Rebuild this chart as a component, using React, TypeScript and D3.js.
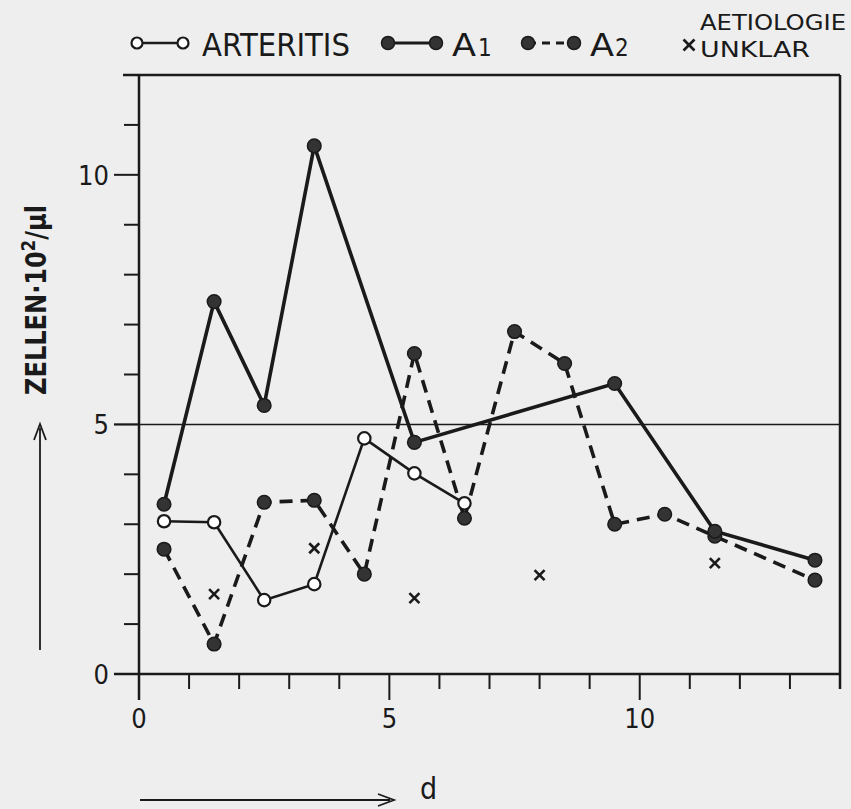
import React from "react";
import * as d3 from "d3";

const arteritisX = [0.5, 1.5, 2.5, 3.5, 4.5, 5.5, 6.5];
const arteritisY = [3.06, 3.04, 1.48, 1.8, 4.72, 4.02, 3.42];

const a1X = [0.5, 1.5, 2.5, 3.5, 5.5, 9.5, 11.5, 13.5];
const a1Y = [3.4, 7.46, 5.38, 10.58, 4.64, 5.82, 2.86, 2.28];

const a2X = [0.5, 1.5, 2.5, 3.5, 4.5, 5.5, 6.5, 7.5, 8.5, 9.5, 10.5, 11.5, 13.5];
const a2Y = [2.5, 0.6, 3.44, 3.48, 2.0, 6.42, 3.12, 6.86, 6.22, 3.0, 3.2, 2.76, 1.88];

const unklarX = [1.5, 3.5, 5.5, 8.0, 11.5];
const unklarY = [1.6, 2.52, 1.52, 1.98, 2.22];

const xMajor = [0, 5, 10];
const xMinor = [1, 2, 3, 4, 6, 7, 8, 9, 11, 12, 13, 14];
const yMajor = [0, 5, 10];
const yMinor = [1, 2, 3, 4, 6, 7, 8, 9, 11];

const W = 851;
const H = 809;
const INK = "#1a1a1a";
const FONT = "'Liberation Sans Narrow', 'DejaVu Sans Condensed', 'Liberation Sans', sans-serif";

export default function App() {
  const x = d3.scaleLinear().domain([0, 14]).range([139, 840]);
  const y = d3.scaleLinear().domain([0, 12]).range([674, 75]);

  const pts = (xs: number[], ys: number[]) => xs.map((v, i) => [v, ys[i]] as [number, number]);
  const line = d3
    .line<[number, number]>()
    .x((d) => x(d[0]))
    .y((d) => y(d[1]));

  const art = pts(arteritisX, arteritisY);
  const a1 = pts(a1X, a1Y);
  const a2 = pts(a2X, a2Y);
  const unk = pts(unklarX, unklarY);

  const cross = (cx: number, cy: number, k: string, s = 5) => (
    <g key={k} stroke={INK} strokeWidth={2.6}>
      <line x1={cx - s} y1={cy - s} x2={cx + s} y2={cy + s} />
      <line x1={cx - s} y1={cy + s} x2={cx + s} y2={cy - s} />
    </g>
  );

  return (
    <svg width={W} height={H} style={{ display: "block", position: "absolute", left: 0, top: 0 }}>
      <rect x={0} y={0} width={W} height={H} fill="#eeeeee" />

      {/* Legend */}
      <g fontFamily={FONT} fill={INK}>
        <line x1={137} y1={43} x2={183} y2={43} stroke={INK} strokeWidth={2.5} />
        <circle cx={137} cy={43} r={5.5} fill="#ffffff" stroke={INK} strokeWidth={2.2} />
        <circle cx={183} cy={43} r={5.5} fill="#ffffff" stroke={INK} strokeWidth={2.2} />
        <text x={202} y={56} fontSize={32} textLength={148} lengthAdjust="spacingAndGlyphs">ARTERITIS</text>

        <line x1={388} y1={43} x2={436} y2={43} stroke={INK} strokeWidth={3.2} />
        <circle cx={388} cy={43} r={6.5} fill="#333" stroke={INK} strokeWidth={1.5} />
        <circle cx={436} cy={43} r={6.5} fill="#333" stroke={INK} strokeWidth={1.5} />
        <text x={452} y={56} fontSize={32} textLength={24} lengthAdjust="spacingAndGlyphs">A</text>
        <text x={478} y={56} fontSize={24}>1</text>

        <line x1={528} y1={43} x2={574} y2={43} stroke={INK} strokeWidth={3.2} strokeDasharray="8,6" />
        <circle cx={528} cy={43} r={6.5} fill="#333" stroke={INK} strokeWidth={1.5} />
        <circle cx={574} cy={43} r={6.5} fill="#333" stroke={INK} strokeWidth={1.5} />
        <text x={590} y={56} fontSize={32} textLength={24} lengthAdjust="spacingAndGlyphs">A</text>
        <text x={615} y={56} fontSize={24}>2</text>

        {cross(689, 45, "lg", 5.5)}
        <text x={700} y={30} fontSize={21} textLength={146} lengthAdjust="spacingAndGlyphs">AETIOLOGIE</text>
        <text x={700} y={57} fontSize={22} textLength={110} lengthAdjust="spacingAndGlyphs">UNKLAR</text>
      </g>

      {/* Frame */}
      <g stroke={INK} fill="none">
        <line x1={123} y1={y(12)} x2={x(14)} y2={y(12)} strokeWidth={2.5} />
        <line x1={x(14)} y1={y(12)} x2={x(14)} y2={y(0) + 15} strokeWidth={2.5} />
        <line x1={x(0)} y1={y(12)} x2={x(0)} y2={y(0) + 26} strokeWidth={2.5} />
        <line x1={x(0) - 25} y1={y(0)} x2={x(14)} y2={y(0)} strokeWidth={2.5} />
        <line x1={x(0) - 25} y1={y(5)} x2={x(14)} y2={y(5)} strokeWidth={1.5} />
        {xMinor.map((v) => (
          <line key={"xm" + v} x1={x(v)} y1={y(0)} x2={x(v)} y2={y(0) + 15} strokeWidth={2} />
        ))}
        {xMajor.map((v) => (
          <line key={"xM" + v} x1={x(v)} y1={y(0)} x2={x(v)} y2={y(0) + 26} strokeWidth={2} />
        ))}
        {yMinor.map((v) => (
          <line key={"ym" + v} x1={x(0) - 15} y1={y(v)} x2={x(0)} y2={y(v)} strokeWidth={2} />
        ))}
        {yMajor.map((v) => (
          <line key={"yM" + v} x1={x(0) - 25} y1={y(v)} x2={x(0)} y2={y(v)} strokeWidth={2} />
        ))}
      </g>

      {/* Tick labels */}
      <g fontFamily={FONT} fill={INK} fontSize={27}>
        {xMajor.map((v) => (
          <text key={"xl" + v} x={x(v)} y={y(0) + 54} textAnchor="middle">{v}</text>
        ))}
        {yMajor.map((v) => (
          <text key={"yl" + v} x={x(0) - 30} y={y(v) + 10} textAnchor="end">{v}</text>
        ))}
      </g>

      {/* Axis titles */}
      <g fontFamily={FONT} fill={INK}>
        <text transform="translate(46,300) rotate(-90)" textAnchor="middle" fontSize={28} fontWeight="bold" textLength={190} lengthAdjust="spacingAndGlyphs">
          ZELLEN·10<tspan dy={-11} fontSize={19}>2</tspan><tspan dy={11}>/µl</tspan>
        </text>
        <line x1={40} y1={650} x2={40} y2={428} stroke={INK} strokeWidth={1.8} />
        <path d="M34,440 L40,424 L46,440" fill="none" stroke={INK} strokeWidth={1.8} />
        <line x1={140} y1={800} x2={390} y2={800} stroke={INK} strokeWidth={1.8} />
        <path d="M378,794 L394,800 L378,806" fill="none" stroke={INK} strokeWidth={1.8} />
        <text x={420} y={799} fontSize={30}>d</text>
      </g>

      {/* Lines */}
      <path d={line(art) || ""} fill="none" stroke={INK} strokeWidth={2.6} />
      <path d={line(a1) || ""} fill="none" stroke={INK} strokeWidth={3.6} />
      <path d={line(a2) || ""} fill="none" stroke={INK} strokeWidth={3.6} strokeDasharray="13,8" />

      {/* Markers */}
      {a2.map((d, i) => (
        <circle key={"a2" + i} cx={x(d[0])} cy={y(d[1])} r={6.8} fill="#333" stroke={INK} strokeWidth={1.5} />
      ))}
      {a1.map((d, i) => (
        <circle key={"a1" + i} cx={x(d[0])} cy={y(d[1])} r={6.8} fill="#333" stroke={INK} strokeWidth={1.5} />
      ))}
      {art.map((d, i) => (
        <circle key={"ar" + i} cx={x(d[0])} cy={y(d[1])} r={6.2} fill="#ffffff" stroke={INK} strokeWidth={2.2} />
      ))}
      {unk.map((d, i) => cross(x(d[0]), y(d[1]), "u" + i))}
    </svg>
  );
}
